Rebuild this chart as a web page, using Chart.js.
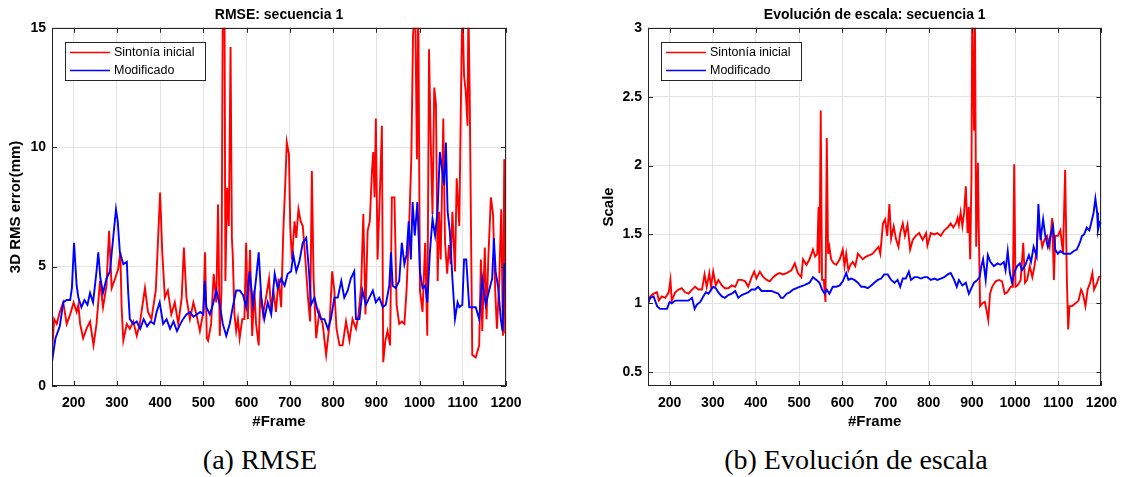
<!DOCTYPE html>
<html>
<head>
<meta charset="utf-8">
<script src="https://cdn.jsdelivr.net/npm/chart.js@4.4.1/dist/chart.umd.min.js"></script>
<style>
  body { margin: 0; background: #fff; width: 1126px; height: 477px; overflow: hidden; position: relative; }
  .panel { position: absolute; top: 0; }
  .caption { position: absolute; font-family: "Liberation Serif", "Times New Roman", serif; font-size: 28px; line-height: 30px; text-align: center; color: #000; white-space: nowrap; }
</style>
</head>
<body>
<div class="panel" style="left:0"><canvas id="rmseChart" width="560" height="440"></canvas></div>
<div class="panel" style="left:596px"><canvas id="scaleChart" width="530" height="440"></canvas></div>
<div class="caption" style="left:110px;top:445px;width:300px">(a) RMSE</div>
<div class="caption" style="left:656px;top:445px;width:400px">(b) Evolución de escala</div>
<script>
// Axis ticks
const xTicks = [200, 300, 400, 500, 600, 700, 800, 900, 1000, 1100, 1200];
const rmseTicks = [0, 5, 10, 15];
const scaleTicks = [0.5, 1, 1.5, 2, 2.5, 3];

// RMSE - Sintonía inicial
const rmseInicialFrames = [
  150,155,161,168,176,184,192,200,207,211,
  215,222,230,238,246,253,261,268,276,282,
  288,296,303,308,311,315,323,330,338,346,
  353,365,372,380,390,395,400,405,411,418,
  426,434,442,450,455,461,469,477,484,492,
  500,504,508,511,518,524,530,534,538,542,
  545,549,551,555,559,563,566,568,572,576,
  580,584,590,595,599,603,608,613,618,622,
  628,632,638,645,652,657,662,668,674,680,
  685,690,693,698,701,705,711,715,720,725,
  730,736,742,747,751,755,761,768,776,784,
  792,798,803,808,815,822,830,838,845,853,
  859,865,870,875,880,885,890,893,896,899,
  903,908,913,916,921,926,932,936,942,947,
  953,959,965,970,976,981,985,990,994,997,
  1001,1007,1013,1018,1022,1026,1030,1034,1038,1042,
  1045,1049,1055,1059,1064,1068,1072,1076,1082,1086,
  1092,1096,1099,1103,1107,1111,1113,1116,1119,1122,
  1130,1138,1142,1145,1151,1155,1159,1165,1170,1175,
  1179,1184,1189,1193,1196,1198,1200
];
const rmseInicialValues = [
  1.4,2.8,2.6,3.1,3.5,2.6,3.0,3.5,3.1,3.4,
  2.6,2.0,2.4,2.7,1.7,2.6,4.4,3.3,4.2,6.5,
  4.1,4.5,4.9,5.6,3.3,1.9,2.6,2.4,2.7,2.1,
  2.6,4.1,3.1,2.8,4.0,6.0,8.1,5.6,3.7,4.0,
  3.0,3.5,2.6,3.7,5.8,3.7,2.8,3.5,3.0,2.3,
  3.1,5.6,2.0,1.9,2.6,4.7,3.5,7.6,2.1,4.0,
  16,16,4.4,8.3,6.7,14.2,6.2,5.5,3.0,2.3,
  2.8,2.0,2.8,2.8,6.0,2.8,5.7,2.1,4.0,2.6,
  1.7,4.0,3.0,3.7,4.5,3.1,4.0,3.1,4.5,3.3,
  6.5,8.7,10.2,9.7,6.7,5.3,6.9,6.2,7.4,6.9,
  6.7,5.3,3.7,2.7,9.0,4.5,2.0,3.1,2.6,1.3,
  2.6,4.8,4.0,2.4,1.7,1.7,2.7,1.9,2.8,2.4,
  3.0,4.2,7.2,3.0,6.5,6.9,9.0,9.8,7.9,11.2,
  5.3,7.9,10.9,1.0,1.9,2.3,1.7,7.9,7.9,3.4,
  2.6,2.7,2.6,4.0,6.7,9.5,14.7,16,9.5,16,
  4.0,3.1,6.0,2.1,14.1,10.2,7.2,12.5,11.8,4.4,
  7.3,5.3,11.2,6.0,4.7,5.9,5.1,7.3,4.8,8.7,
  6.7,12.3,16,13.0,12.3,10.9,16,12.3,6.7,1.3,
  1.2,1.7,5.3,2.3,5.8,2.8,5.3,7.9,7.2,4.0,
  2.4,4.2,7.4,2.1,9.5,2.2,9.6
];

// RMSE - Modificado
const rmseModFrames = [
  150,158,168,176,184,192,196,201,207,211,
  218,225,232,238,245,253,257,262,268,276,
  284,292,298,302,307,315,323,326,330,338,
  346,354,362,370,378,386,392,399,407,415,
  423,431,439,447,453,461,469,477,485,493,
  500,503,507,515,522,530,538,545,553,561,
  568,576,584,592,599,607,615,622,628,634,
  641,649,657,665,672,680,688,695,703,708,
  715,722,730,738,744,749,757,765,772,780,
  788,795,803,811,819,826,834,841,849,853,
  861,868,876,884,892,899,907,915,922,930,
  934,938,945,953,959,965,970,975,980,984,
  989,995,1001,1007,1013,1018,1024,1030,1036,1042,
  1047,1052,1057,1061,1065,1070,1076,1082,1088,1092,
  1099,1103,1108,1115,1122,1130,1138,1145,1153,1161,
  1168,1172,1176,1182,1188,1192,1196,1200
];
const rmseModValues = [
  1.0,2.0,2.5,3.5,3.6,3.6,4.1,6.0,4.2,3.7,
  3.3,3.6,3.4,3.9,3.5,4.8,5.6,4.5,3.9,4.5,
  4.8,6.3,7.4,6.9,5.6,5.1,5.2,4.0,2.8,2.6,
  2.7,2.4,2.8,2.5,2.7,2.6,3.1,3.5,2.6,2.8,
  2.4,2.7,2.3,2.6,2.8,3.0,3.1,2.9,3.0,3.1,
  3.0,4.4,3.3,3.0,3.4,4.0,3.4,2.6,2.1,2.6,
  3.3,4.0,4.0,3.8,3.3,4.8,3.4,4.5,5.6,3.7,
  2.8,3.5,3.0,4.7,4.1,4.5,4.2,4.7,4.8,5.5,
  4.8,5.2,6.0,6.2,4.9,3.4,3.7,3.1,2.8,2.8,
  2.4,2.8,3.7,3.7,4.4,3.7,4.0,4.5,4.8,2.8,
  2.8,4.0,3.4,3.7,4.0,3.5,3.7,3.3,3.4,4.2,
  5.6,4.2,4.1,4.4,6.0,5.1,5.5,6.9,5.3,7.7,
  6.3,7.7,4.8,4.1,4.2,3.5,5.6,7.0,6.3,7.4,
  9.8,9.1,8.4,10.2,7.3,6.5,4.5,2.8,3.5,3.3,
  3.4,5.3,5.3,3.3,3.3,3.3,2.8,4.5,3.4,4.0,
  4.5,6.2,4.8,4.1,2.8,2.3,5.1,5.1
];

// Scale - Sintonía inicial
const scaleInicialFrames = [
  150,155,163,171,175,182,190,198,202,205,
  213,221,228,236,244,252,259,267,275,281,
  286,292,296,301,307,313,321,328,336,344,
  352,359,367,375,382,390,396,401,409,417,
  425,432,440,448,455,463,471,482,490,497,
  505,509,517,524,532,537,542,545,547,550,
  553,557,561,564,567,570,574,580,586,594,
  601,605,609,614,619,624,630,636,642,647,
  655,663,670,678,684,688,694,699,704,709,
  713,719,724,730,734,740,745,751,757,763,
  770,778,786,794,797,805,813,820,828,836,
  844,851,857,863,867,870,874,878,882,886,
  890,893,896,899,901,905,907,910,914,916,
  919,924,930,934,938,942,947,955,963,970,
  976,982,990,995,998,1001,1006,1013,1019,1023,
  1028,1034,1040,1045,1050,1053,1057,1063,1068,1074,
  1080,1086,1090,1093,1099,1105,1111,1116,1120,1123,
  1126,1132,1140,1147,1153,1157,1163,1168,1174,1179,
  1183,1190,1194,1200
];
const scaleInicialValues = [
  1.0,1.05,1.07,1.08,1.02,1.05,1.04,1.08,1.17,1.02,
  1.08,1.10,1.11,1.08,1.07,1.10,1.12,1.10,1.10,1.21,
  1.12,1.22,1.12,1.23,1.13,1.17,1.13,1.11,1.11,1.13,
  1.12,1.17,1.17,1.16,1.12,1.19,1.23,1.18,1.23,1.19,
  1.17,1.16,1.19,1.21,1.22,1.21,1.22,1.24,1.29,1.22,
  1.19,1.32,1.28,1.32,1.39,1.34,1.36,1.70,1.22,2.40,
  1.17,1.17,1.01,2.20,1.36,1.41,1.32,1.29,1.28,1.32,
  1.39,1.27,1.36,1.24,1.28,1.30,1.27,1.36,1.34,1.32,
  1.34,1.35,1.36,1.39,1.41,1.36,1.58,1.61,1.49,1.72,
  1.47,1.56,1.47,1.41,1.51,1.58,1.49,1.57,1.39,1.46,
  1.49,1.51,1.46,1.51,1.42,1.51,1.50,1.51,1.49,1.53,
  1.55,1.58,1.55,1.58,1.62,1.57,1.66,1.56,1.66,1.85,
  1.51,1.70,1.32,1.90,3.2,2.26,3.2,1.41,2.02,1.53,
  0.98,1.0,1.01,0.95,0.88,1.07,1.12,1.16,1.17,1.16,
  1.07,1.08,1.12,1.12,2.01,1.12,1.13,1.17,1.44,1.15,
  1.17,1.27,1.19,1.27,1.39,1.58,1.53,1.41,1.46,1.49,
  1.41,1.62,1.17,1.49,1.49,1.53,1.36,1.97,1.17,0.81,
  0.98,0.98,1.0,1.02,1.10,1.07,0.98,1.10,1.15,1.22,
  1.10,1.15,1.19,1.20
];

// Scale - Modificado
const scaleModFrames = [
  150,155,163,171,178,186,194,200,205,213,
  221,228,236,244,252,258,263,271,278,284,
  290,296,301,307,313,321,328,336,344,352,
  359,367,375,382,390,398,405,413,421,428,
  436,444,452,458,463,471,478,486,494,501,
  511,524,532,540,547,553,559,564,570,578,
  586,594,601,609,614,620,628,636,644,651,
  659,667,674,682,690,697,705,713,721,728,
  734,740,747,754,759,767,774,782,790,797,
  805,813,820,828,836,844,851,859,865,870,
  878,886,893,899,905,913,918,922,926,932,
  937,943,951,959,966,974,978,983,988,993,
  999,1005,1011,1016,1024,1032,1037,1043,1050,1054,
  1059,1065,1070,1076,1082,1088,1093,1099,1105,1113,
  1120,1128,1136,1143,1150,1155,1160,1166,1172,1176,
  1182,1186,1190,1192,1196,1200
];
const scaleModValues = [
  1.0,1.04,1.05,0.98,0.96,0.96,0.96,1.01,1.00,1.02,
  1.02,1.02,1.02,1.02,1.04,0.96,0.99,1.01,1.05,1.08,
  1.07,1.10,1.12,1.11,1.08,1.05,1.04,1.06,1.07,1.09,
  1.04,1.06,1.07,1.08,1.10,1.10,1.12,1.09,1.09,1.09,
  1.09,1.08,1.07,1.04,1.04,1.07,1.08,1.10,1.11,1.12,
  1.13,1.15,1.19,1.17,1.15,1.10,1.07,1.10,1.07,1.12,
  1.12,1.13,1.16,1.22,1.17,1.18,1.17,1.15,1.12,1.12,
  1.11,1.13,1.15,1.17,1.18,1.21,1.21,1.17,1.15,1.17,
  1.12,1.18,1.18,1.23,1.17,1.19,1.19,1.18,1.19,1.19,
  1.17,1.18,1.17,1.18,1.19,1.21,1.22,1.17,1.12,1.17,
  1.13,1.15,1.07,1.11,1.15,1.17,1.19,1.27,1.32,1.17,
  1.35,1.30,1.27,1.29,1.28,1.30,1.24,1.38,1.22,1.15,
  1.23,1.27,1.29,1.24,1.28,1.35,1.30,1.41,1.34,1.72,
  1.46,1.61,1.49,1.41,1.49,1.56,1.39,1.36,1.38,1.36,
  1.36,1.36,1.38,1.39,1.44,1.49,1.50,1.55,1.53,1.58,
  1.66,1.76,1.66,1.53,1.59,1.58
];

const sansFont = '"Liberation Sans", Arial, Helvetica, sans-serif';
const gridColor = '#e3e3e3';
const axisColor = '#262626';

const toPoints = (frames, values) => frames.map((f, i) => ({ x: f, y: values[i] }));

// MATLAB style box: full frame, inner tick marks and a legend inside the axes
const matlabBox = {
  id: 'matlabBox',
  afterDraw(chart) {
    const { ctx, chartArea: a, scales } = chart;
    ctx.save();
    ctx.strokeStyle = axisColor;
    ctx.lineWidth = 1;
    ctx.beginPath();
    scales.x.ticks.forEach(t => {
      const px = Math.round(scales.x.getPixelForValue(t.value)) + 0.5;
      ctx.moveTo(px, a.bottom); ctx.lineTo(px, a.bottom - 5);
      ctx.moveTo(px, a.top); ctx.lineTo(px, a.top + 5);
    });
    scales.y.ticks.forEach(t => {
      const py = Math.round(scales.y.getPixelForValue(t.value)) + 0.5;
      ctx.moveTo(a.left, py); ctx.lineTo(a.left + 5, py);
      ctx.moveTo(a.right, py); ctx.lineTo(a.right - 5, py);
    });
    ctx.stroke();
    ctx.strokeRect(Math.round(a.left) + 0.5, Math.round(a.top) + 0.5,
      Math.round(a.width) - 1, Math.round(a.height) - 1);

    // legend
    const lx = Math.round(a.left) + 13, ly = Math.round(a.top) + 14, w = 140, h = 38;
    ctx.fillStyle = '#fff';
    ctx.fillRect(lx, ly, w, h);
    ctx.strokeRect(lx + 0.5, ly + 0.5, w, h);
    ctx.font = '12.5px ' + sansFont;
    ctx.textBaseline = 'middle';
    chart.data.datasets.forEach((ds, i) => {
      const y = ly + 10.5 + i * 18;
      ctx.strokeStyle = ds.borderColor;
      ctx.lineWidth = 1.3;
      ctx.beginPath();
      ctx.moveTo(lx + 5, y); ctx.lineTo(lx + 45, y);
      ctx.stroke();
      ctx.fillStyle = '#000';
      ctx.fillText(ds.label, lx + 49, y);
    });
    ctx.restore();
  }
};

function makeChart(id, inicial, modificado, yMin, yMax, yTicks, yTitle, title, yTitlePad, padRight) {
  return new Chart(document.getElementById(id), {
    type: 'line',
    data: {
      datasets: [{
        label: 'Sintonía inicial',
        data: inicial,
        borderColor: '#ff0000',
        order: 1
      }, {
        label: 'Modificado',
        data: modificado,
        borderColor: '#0000ff',
        order: 0
      }]
    },
    options: {
      responsive: false,
      animation: false,
      layout: { padding: { left: 0, right: padRight, top: 0, bottom: 0 } },
      elements: {
        point: { radius: 0 },
        line: { borderWidth: 1.9, tension: 0, fill: false }
      },
      plugins: {
        legend: { display: false },
        tooltip: { enabled: false },
        title: {
          display: true,
          text: title,
          fullSize: false,
          color: '#000',
          font: { family: sansFont, size: 14, weight: 'bold' },
          padding: { top: 7, bottom: 4 }
        }
      },
      scales: {
        x: {
          type: 'linear',
          min: 150,
          max: 1200,
          afterBuildTicks: s => { s.ticks = xTicks.map(v => ({ value: v })); },
          afterFit: s => { s.height = 54; },
          grid: { color: gridColor, drawTicks: false },
          border: { display: false },
          ticks: {
            padding: 9,
            color: '#000',
            font: { family: sansFont, size: 14, weight: 'bold' },
            callback: v => String(v)
          },
          title: {
            display: true,
            text: '#Frame',
            color: '#000',
            font: { family: sansFont, size: 15, weight: 'bold' },
            padding: { top: 0, bottom: 9 }
          }
        },
        y: {
          type: 'linear',
          min: yMin,
          max: yMax,
          afterBuildTicks: s => { s.ticks = yTicks.map(v => ({ value: v })); },
          afterFit: s => { s.width = 52; },
          grid: { color: gridColor, drawTicks: false },
          border: { display: false },
          ticks: {
            padding: 6,
            color: '#000',
            font: { family: sansFont, size: 14, weight: 'bold' },
            callback: v => String(v)
          },
          title: {
            display: true,
            text: yTitle,
            color: '#000',
            font: { family: sansFont, size: 15, weight: 'bold' },
            padding: { top: yTitlePad, bottom: 0 }
          }
        }
      }
    },
    plugins: [matlabBox]
  });
}

makeChart('rmseChart',
  toPoints(rmseInicialFrames, rmseInicialValues),
  toPoints(rmseModFrames, rmseModValues),
  0, 15, rmseTicks, '3D RMS error(mm)', 'RMSE: secuencia 1', 7, 54);

makeChart('scaleChart',
  toPoints(scaleInicialFrames, scaleInicialValues),
  toPoints(scaleModFrames, scaleModValues),
  0.4, 3, scaleTicks, 'Scale', 'Evolución de escala: secuencia 1', 4, 24);
</script>
</body>
</html>
